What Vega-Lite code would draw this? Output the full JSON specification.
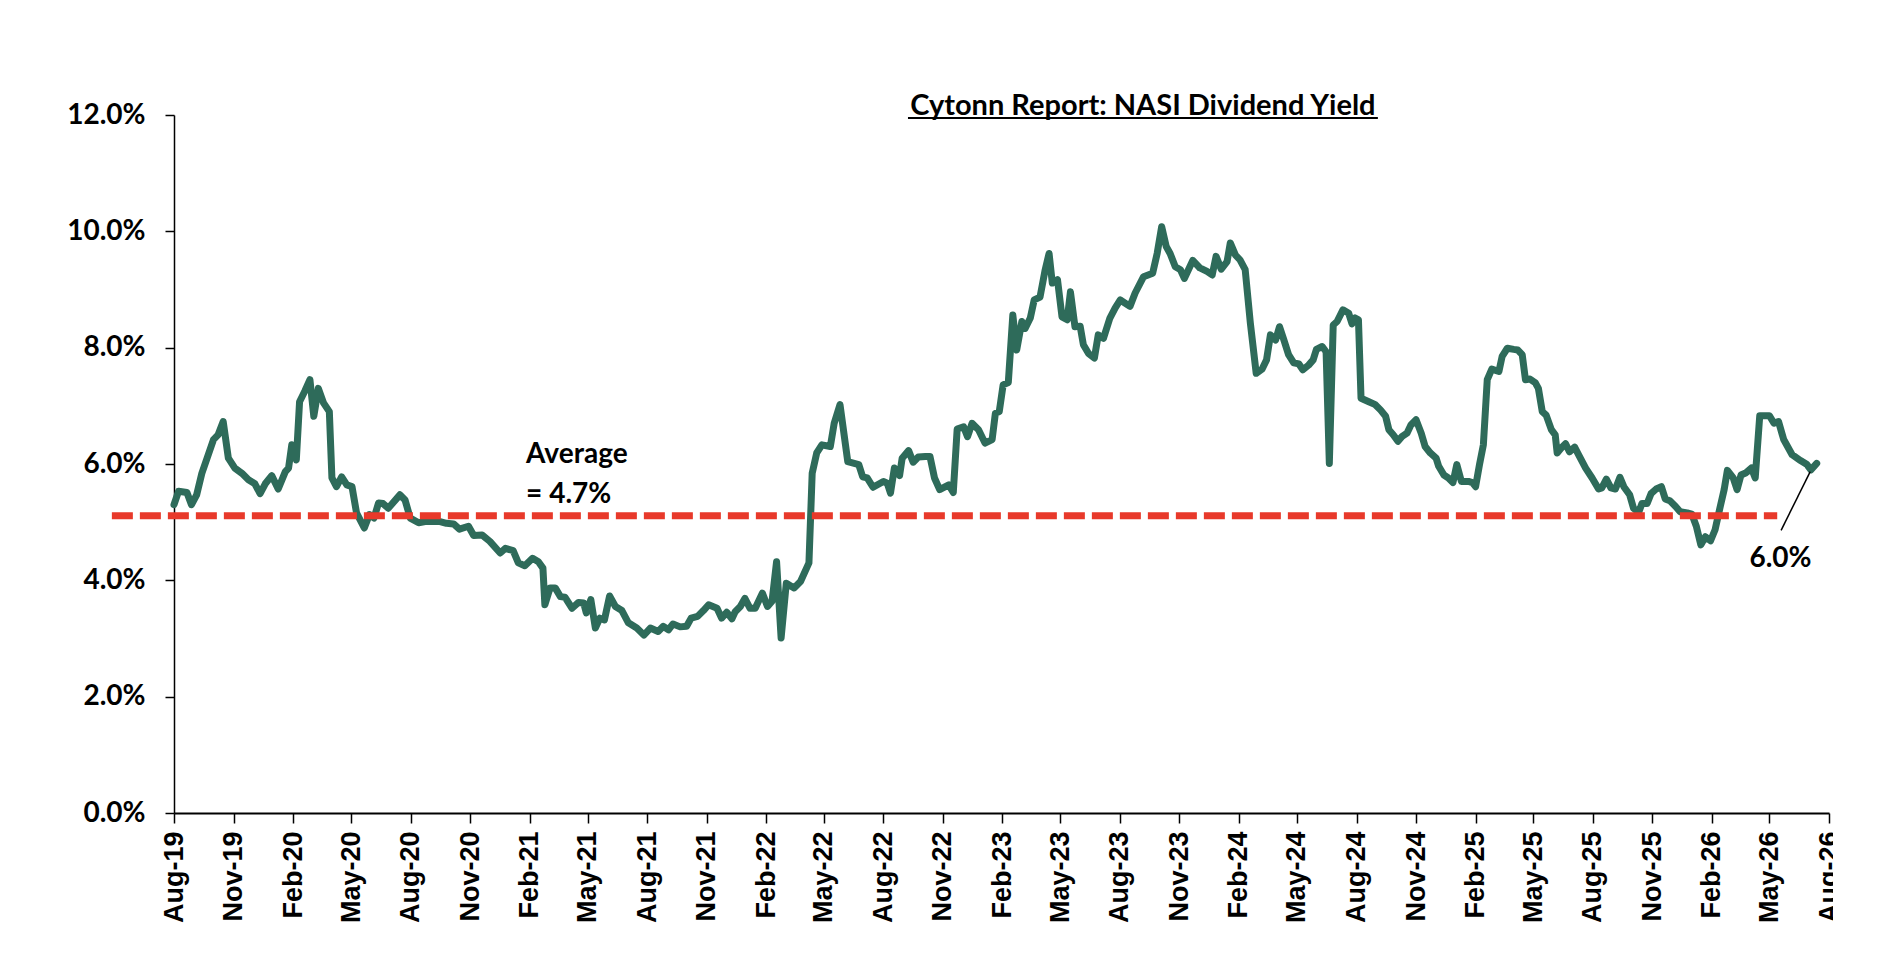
{
  "$schema": "https://vega.github.io/schema/vega-lite/v6.json",
  "width": 1655,
  "height": 698,
  "autosize": {"type": "none"},
  "padding": {"left": 174, "top": 115, "right": 4, "bottom": 159},
  "background": "white",
  "datasets": {
    "nasi": [
      {"date": "2019-08-01", "value": 5.30},
      {"date": "2019-08-08", "value": 5.53},
      {"date": "2019-08-21", "value": 5.51},
      {"date": "2019-08-28", "value": 5.30},
      {"date": "2019-09-05", "value": 5.47},
      {"date": "2019-09-13", "value": 5.84},
      {"date": "2019-10-01", "value": 6.42},
      {"date": "2019-10-08", "value": 6.50},
      {"date": "2019-10-16", "value": 6.73},
      {"date": "2019-10-24", "value": 6.10},
      {"date": "2019-11-03", "value": 5.93},
      {"date": "2019-11-14", "value": 5.84},
      {"date": "2019-11-24", "value": 5.73},
      {"date": "2019-12-04", "value": 5.66},
      {"date": "2019-12-12", "value": 5.49},
      {"date": "2019-12-20", "value": 5.66},
      {"date": "2019-12-30", "value": 5.80},
      {"date": "2020-01-09", "value": 5.57},
      {"date": "2020-01-20", "value": 5.87},
      {"date": "2020-01-25", "value": 5.93},
      {"date": "2020-01-30", "value": 6.33},
      {"date": "2020-02-06", "value": 6.07},
      {"date": "2020-02-11", "value": 7.07},
      {"date": "2020-02-19", "value": 7.25},
      {"date": "2020-02-27", "value": 7.45},
      {"date": "2020-03-04", "value": 6.82},
      {"date": "2020-03-11", "value": 7.30},
      {"date": "2020-03-19", "value": 7.05},
      {"date": "2020-03-28", "value": 6.90},
      {"date": "2020-04-01", "value": 5.76},
      {"date": "2020-04-08", "value": 5.61},
      {"date": "2020-04-16", "value": 5.78},
      {"date": "2020-04-24", "value": 5.64},
      {"date": "2020-05-02", "value": 5.61},
      {"date": "2020-05-09", "value": 5.16},
      {"date": "2020-05-21", "value": 4.90},
      {"date": "2020-05-29", "value": 5.13},
      {"date": "2020-06-05", "value": 5.07},
      {"date": "2020-06-12", "value": 5.33},
      {"date": "2020-06-19", "value": 5.32},
      {"date": "2020-06-27", "value": 5.24},
      {"date": "2020-07-15", "value": 5.47},
      {"date": "2020-07-23", "value": 5.38},
      {"date": "2020-07-31", "value": 5.07},
      {"date": "2020-08-13", "value": 4.99},
      {"date": "2020-08-23", "value": 5.01},
      {"date": "2020-09-15", "value": 5.01},
      {"date": "2020-09-25", "value": 4.98},
      {"date": "2020-10-06", "value": 4.97},
      {"date": "2020-10-15", "value": 4.88},
      {"date": "2020-10-29", "value": 4.93},
      {"date": "2020-11-06", "value": 4.77},
      {"date": "2020-11-19", "value": 4.78},
      {"date": "2020-12-01", "value": 4.67},
      {"date": "2020-12-17", "value": 4.47},
      {"date": "2020-12-25", "value": 4.55},
      {"date": "2021-01-06", "value": 4.51},
      {"date": "2021-01-14", "value": 4.30},
      {"date": "2021-01-24", "value": 4.25},
      {"date": "2021-02-05", "value": 4.38},
      {"date": "2021-02-14", "value": 4.32},
      {"date": "2021-02-21", "value": 4.21},
      {"date": "2021-02-24", "value": 3.58},
      {"date": "2021-03-04", "value": 3.87},
      {"date": "2021-03-12", "value": 3.87},
      {"date": "2021-03-20", "value": 3.72},
      {"date": "2021-03-27", "value": 3.71},
      {"date": "2021-04-07", "value": 3.52},
      {"date": "2021-04-17", "value": 3.62},
      {"date": "2021-04-25", "value": 3.61},
      {"date": "2021-04-29", "value": 3.44},
      {"date": "2021-05-06", "value": 3.67},
      {"date": "2021-05-13", "value": 3.18},
      {"date": "2021-05-20", "value": 3.35},
      {"date": "2021-05-27", "value": 3.32},
      {"date": "2021-06-04", "value": 3.73},
      {"date": "2021-06-13", "value": 3.55},
      {"date": "2021-06-23", "value": 3.48},
      {"date": "2021-07-03", "value": 3.27},
      {"date": "2021-07-16", "value": 3.18},
      {"date": "2021-07-27", "value": 3.06},
      {"date": "2021-08-06", "value": 3.18},
      {"date": "2021-08-18", "value": 3.12},
      {"date": "2021-08-26", "value": 3.21},
      {"date": "2021-09-03", "value": 3.15},
      {"date": "2021-09-10", "value": 3.25},
      {"date": "2021-09-21", "value": 3.20},
      {"date": "2021-10-01", "value": 3.21},
      {"date": "2021-10-08", "value": 3.35},
      {"date": "2021-10-18", "value": 3.38},
      {"date": "2021-10-27", "value": 3.48},
      {"date": "2021-11-04", "value": 3.58},
      {"date": "2021-11-17", "value": 3.52},
      {"date": "2021-11-24", "value": 3.35},
      {"date": "2021-12-02", "value": 3.45},
      {"date": "2021-12-10", "value": 3.34},
      {"date": "2021-12-15", "value": 3.46},
      {"date": "2021-12-23", "value": 3.55},
      {"date": "2021-12-30", "value": 3.69},
      {"date": "2022-01-07", "value": 3.52},
      {"date": "2022-01-15", "value": 3.52},
      {"date": "2022-01-26", "value": 3.78},
      {"date": "2022-02-03", "value": 3.55},
      {"date": "2022-02-10", "value": 3.64},
      {"date": "2022-02-17", "value": 4.32},
      {"date": "2022-02-24", "value": 3.01},
      {"date": "2022-03-04", "value": 3.95},
      {"date": "2022-03-16", "value": 3.87},
      {"date": "2022-03-26", "value": 3.98},
      {"date": "2022-04-08", "value": 4.30},
      {"date": "2022-04-13", "value": 5.84},
      {"date": "2022-04-20", "value": 6.19},
      {"date": "2022-04-28", "value": 6.33},
      {"date": "2022-05-11", "value": 6.30},
      {"date": "2022-05-17", "value": 6.70},
      {"date": "2022-05-26", "value": 7.02},
      {"date": "2022-06-07", "value": 6.04},
      {"date": "2022-06-24", "value": 5.99},
      {"date": "2022-06-30", "value": 5.78},
      {"date": "2022-07-07", "value": 5.76},
      {"date": "2022-07-16", "value": 5.60},
      {"date": "2022-08-01", "value": 5.70},
      {"date": "2022-08-07", "value": 5.67},
      {"date": "2022-08-12", "value": 5.50},
      {"date": "2022-08-18", "value": 5.93},
      {"date": "2022-08-26", "value": 5.80},
      {"date": "2022-08-30", "value": 6.10},
      {"date": "2022-09-09", "value": 6.23},
      {"date": "2022-09-16", "value": 6.03},
      {"date": "2022-09-24", "value": 6.12},
      {"date": "2022-10-05", "value": 6.13},
      {"date": "2022-10-12", "value": 6.13},
      {"date": "2022-10-19", "value": 5.76},
      {"date": "2022-10-27", "value": 5.56},
      {"date": "2022-11-10", "value": 5.64},
      {"date": "2022-11-17", "value": 5.51},
      {"date": "2022-11-23", "value": 6.60},
      {"date": "2022-12-03", "value": 6.64},
      {"date": "2022-12-09", "value": 6.47},
      {"date": "2022-12-16", "value": 6.70},
      {"date": "2022-12-26", "value": 6.59},
      {"date": "2023-01-05", "value": 6.36},
      {"date": "2023-01-16", "value": 6.42},
      {"date": "2023-01-21", "value": 6.87},
      {"date": "2023-01-27", "value": 6.90},
      {"date": "2023-02-02", "value": 7.36},
      {"date": "2023-02-10", "value": 7.40},
      {"date": "2023-02-17", "value": 8.56},
      {"date": "2023-02-23", "value": 7.96},
      {"date": "2023-03-03", "value": 8.45},
      {"date": "2023-03-08", "value": 8.33},
      {"date": "2023-03-16", "value": 8.51},
      {"date": "2023-03-22", "value": 8.82},
      {"date": "2023-03-31", "value": 8.87},
      {"date": "2023-04-08", "value": 9.34},
      {"date": "2023-04-14", "value": 9.62},
      {"date": "2023-04-19", "value": 9.11},
      {"date": "2023-04-27", "value": 9.17},
      {"date": "2023-05-04", "value": 8.53},
      {"date": "2023-05-12", "value": 8.48},
      {"date": "2023-05-17", "value": 8.96},
      {"date": "2023-05-24", "value": 8.36},
      {"date": "2023-06-01", "value": 8.37},
      {"date": "2023-06-06", "value": 8.05},
      {"date": "2023-06-14", "value": 7.90},
      {"date": "2023-06-23", "value": 7.82},
      {"date": "2023-06-29", "value": 8.22},
      {"date": "2023-07-07", "value": 8.16},
      {"date": "2023-07-17", "value": 8.51},
      {"date": "2023-07-25", "value": 8.68},
      {"date": "2023-08-02", "value": 8.82},
      {"date": "2023-08-17", "value": 8.71},
      {"date": "2023-08-25", "value": 8.94},
      {"date": "2023-09-07", "value": 9.22},
      {"date": "2023-09-21", "value": 9.28},
      {"date": "2023-09-28", "value": 9.62},
      {"date": "2023-10-05", "value": 10.08},
      {"date": "2023-10-12", "value": 9.74},
      {"date": "2023-10-18", "value": 9.62},
      {"date": "2023-10-26", "value": 9.39},
      {"date": "2023-11-03", "value": 9.34},
      {"date": "2023-11-09", "value": 9.19},
      {"date": "2023-11-22", "value": 9.50},
      {"date": "2023-12-03", "value": 9.37},
      {"date": "2023-12-14", "value": 9.31},
      {"date": "2023-12-22", "value": 9.25},
      {"date": "2023-12-28", "value": 9.57},
      {"date": "2024-01-05", "value": 9.35},
      {"date": "2024-01-14", "value": 9.48},
      {"date": "2024-01-19", "value": 9.80},
      {"date": "2024-01-27", "value": 9.59},
      {"date": "2024-02-03", "value": 9.51},
      {"date": "2024-02-11", "value": 9.34},
      {"date": "2024-02-19", "value": 8.42},
      {"date": "2024-02-28", "value": 7.56},
      {"date": "2024-03-08", "value": 7.63},
      {"date": "2024-03-15", "value": 7.79},
      {"date": "2024-03-21", "value": 8.22},
      {"date": "2024-03-29", "value": 8.13},
      {"date": "2024-04-04", "value": 8.36},
      {"date": "2024-04-10", "value": 8.16},
      {"date": "2024-04-18", "value": 7.88},
      {"date": "2024-04-26", "value": 7.74},
      {"date": "2024-05-04", "value": 7.72},
      {"date": "2024-05-10", "value": 7.62},
      {"date": "2024-05-19", "value": 7.70},
      {"date": "2024-05-26", "value": 7.79},
      {"date": "2024-05-31", "value": 7.97},
      {"date": "2024-06-09", "value": 8.02},
      {"date": "2024-06-15", "value": 7.93},
      {"date": "2024-06-20", "value": 6.01},
      {"date": "2024-06-26", "value": 8.39},
      {"date": "2024-07-02", "value": 8.45},
      {"date": "2024-07-11", "value": 8.65},
      {"date": "2024-07-20", "value": 8.59},
      {"date": "2024-07-25", "value": 8.41},
      {"date": "2024-07-30", "value": 8.51},
      {"date": "2024-08-04", "value": 8.48},
      {"date": "2024-08-08", "value": 7.13},
      {"date": "2024-08-20", "value": 7.07},
      {"date": "2024-08-30", "value": 7.02},
      {"date": "2024-09-07", "value": 6.93},
      {"date": "2024-09-15", "value": 6.82},
      {"date": "2024-09-20", "value": 6.59},
      {"date": "2024-09-27", "value": 6.50},
      {"date": "2024-10-04", "value": 6.39},
      {"date": "2024-10-10", "value": 6.47},
      {"date": "2024-10-18", "value": 6.53},
      {"date": "2024-10-24", "value": 6.67},
      {"date": "2024-11-01", "value": 6.76},
      {"date": "2024-11-09", "value": 6.53},
      {"date": "2024-11-15", "value": 6.30},
      {"date": "2024-11-23", "value": 6.19},
      {"date": "2024-12-02", "value": 6.10},
      {"date": "2024-12-06", "value": 5.96},
      {"date": "2024-12-14", "value": 5.81},
      {"date": "2024-12-21", "value": 5.76},
      {"date": "2024-12-28", "value": 5.68},
      {"date": "2025-01-03", "value": 5.99},
      {"date": "2025-01-10", "value": 5.70},
      {"date": "2025-01-21", "value": 5.70},
      {"date": "2025-01-27", "value": 5.68},
      {"date": "2025-02-01", "value": 5.61},
      {"date": "2025-02-07", "value": 5.99},
      {"date": "2025-02-13", "value": 6.33},
      {"date": "2025-02-19", "value": 7.45},
      {"date": "2025-02-26", "value": 7.63},
      {"date": "2025-03-09", "value": 7.59},
      {"date": "2025-03-14", "value": 7.85},
      {"date": "2025-03-22", "value": 7.99},
      {"date": "2025-04-01", "value": 7.97},
      {"date": "2025-04-07", "value": 7.96},
      {"date": "2025-04-14", "value": 7.88},
      {"date": "2025-04-19", "value": 7.45},
      {"date": "2025-04-26", "value": 7.46},
      {"date": "2025-05-04", "value": 7.40},
      {"date": "2025-05-09", "value": 7.30},
      {"date": "2025-05-15", "value": 6.90},
      {"date": "2025-05-21", "value": 6.84},
      {"date": "2025-05-29", "value": 6.59},
      {"date": "2025-06-04", "value": 6.50},
      {"date": "2025-06-07", "value": 6.19},
      {"date": "2025-06-13", "value": 6.27},
      {"date": "2025-06-20", "value": 6.35},
      {"date": "2025-06-26", "value": 6.21},
      {"date": "2025-07-04", "value": 6.29},
      {"date": "2025-07-10", "value": 6.16},
      {"date": "2025-07-21", "value": 5.93},
      {"date": "2025-07-31", "value": 5.76},
      {"date": "2025-08-10", "value": 5.57},
      {"date": "2025-08-15", "value": 5.59},
      {"date": "2025-08-22", "value": 5.74},
      {"date": "2025-08-29", "value": 5.59},
      {"date": "2025-09-05", "value": 5.57},
      {"date": "2025-09-12", "value": 5.77},
      {"date": "2025-09-18", "value": 5.61},
      {"date": "2025-09-27", "value": 5.47},
      {"date": "2025-10-03", "value": 5.24},
      {"date": "2025-10-11", "value": 5.17},
      {"date": "2025-10-16", "value": 5.32},
      {"date": "2025-10-24", "value": 5.32},
      {"date": "2025-10-30", "value": 5.49},
      {"date": "2025-11-07", "value": 5.57},
      {"date": "2025-11-15", "value": 5.61},
      {"date": "2025-11-21", "value": 5.40},
      {"date": "2025-11-28", "value": 5.37},
      {"date": "2025-12-07", "value": 5.27},
      {"date": "2025-12-14", "value": 5.18},
      {"date": "2025-12-25", "value": 5.16},
      {"date": "2026-01-01", "value": 5.14},
      {"date": "2026-01-08", "value": 4.93},
      {"date": "2026-01-15", "value": 4.61},
      {"date": "2026-01-22", "value": 4.75},
      {"date": "2026-01-30", "value": 4.68},
      {"date": "2026-02-06", "value": 4.87},
      {"date": "2026-02-14", "value": 5.27},
      {"date": "2026-02-20", "value": 5.56},
      {"date": "2026-02-25", "value": 5.89},
      {"date": "2026-03-06", "value": 5.76},
      {"date": "2026-03-12", "value": 5.56},
      {"date": "2026-03-18", "value": 5.81},
      {"date": "2026-03-26", "value": 5.85},
      {"date": "2026-04-03", "value": 5.93},
      {"date": "2026-04-09", "value": 5.76},
      {"date": "2026-04-16", "value": 6.83},
      {"date": "2026-04-23", "value": 6.83},
      {"date": "2026-05-01", "value": 6.83},
      {"date": "2026-05-08", "value": 6.70},
      {"date": "2026-05-15", "value": 6.73},
      {"date": "2026-05-23", "value": 6.42},
      {"date": "2026-06-05", "value": 6.16},
      {"date": "2026-06-18", "value": 6.06},
      {"date": "2026-06-28", "value": 5.99},
      {"date": "2026-07-04", "value": 5.90},
      {"date": "2026-07-13", "value": 6.01}
    ],
    "average": [
      {"date": "2019-04-27", "date2": "2026-05-13", "value": 5.11}
    ],
    "averageLabel": [
      {"date": "2021-01-26", "value": 6.02, "label": "Average"},
      {"date": "2021-01-26", "value": 5.33, "label": "= 4.7%"}
    ],
    "lastLabel": [
      {"date": "2026-05-18", "value": 4.23, "label": "6.0%"}
    ],
    "leader": [
      {"date": "2026-05-19", "value": 4.86, "date2": "2026-07-03", "value2": 5.87}
    ],
    "heading": [
      {"date": "2023-09-06", "value": 12.0, "label": "Cytonn Report: NASI Dividend Yield"}
    ],
    "headingLine": [
      {"date": "2022-09-08", "date2": "2024-09-03", "value": 11.95}
    ]
  },
  "layer": [
    {
      "data": {"name": "nasi"},
      "mark": {"type": "line", "color": "#2E6B5A", "strokeWidth": 7, "strokeJoin": "round", "strokeCap": "round", "clip": false},
      "encoding": {
        "x": {
          "field": "date",
          "type": "temporal",
          "title": null,
          "scale": {
            "type": "utc",
            "domain": [
              {"year": 2019, "month": 8, "date": 1, "utc": true},
              {"year": 2026, "month": 8, "date": 1, "utc": true}
            ]
          },
          "axis": {
            "values": [
              {"year": 2019, "month": 8, "date": 1, "utc": true},
              {"year": 2019, "month": 11, "date": 1, "utc": true},
              {"year": 2020, "month": 2, "date": 1, "utc": true},
              {"year": 2020, "month": 5, "date": 1, "utc": true},
              {"year": 2020, "month": 8, "date": 1, "utc": true},
              {"year": 2020, "month": 11, "date": 1, "utc": true},
              {"year": 2021, "month": 2, "date": 1, "utc": true},
              {"year": 2021, "month": 5, "date": 1, "utc": true},
              {"year": 2021, "month": 8, "date": 1, "utc": true},
              {"year": 2021, "month": 11, "date": 1, "utc": true},
              {"year": 2022, "month": 2, "date": 1, "utc": true},
              {"year": 2022, "month": 5, "date": 1, "utc": true},
              {"year": 2022, "month": 8, "date": 1, "utc": true},
              {"year": 2022, "month": 11, "date": 1, "utc": true},
              {"year": 2023, "month": 2, "date": 1, "utc": true},
              {"year": 2023, "month": 5, "date": 1, "utc": true},
              {"year": 2023, "month": 8, "date": 1, "utc": true},
              {"year": 2023, "month": 11, "date": 1, "utc": true},
              {"year": 2024, "month": 2, "date": 1, "utc": true},
              {"year": 2024, "month": 5, "date": 1, "utc": true},
              {"year": 2024, "month": 8, "date": 1, "utc": true},
              {"year": 2024, "month": 11, "date": 1, "utc": true},
              {"year": 2025, "month": 2, "date": 1, "utc": true},
              {"year": 2025, "month": 5, "date": 1, "utc": true},
              {"year": 2025, "month": 8, "date": 1, "utc": true},
              {"year": 2025, "month": 11, "date": 1, "utc": true},
              {"year": 2026, "month": 2, "date": 1, "utc": true},
              {"year": 2026, "month": 5, "date": 1, "utc": true},
              {"year": 2026, "month": 8, "date": 1, "utc": true}
            ],
            "format": "%b-%y",
            "labelAngle": -90,
            "labelFont": "Liberation Sans",
            "labelFontWeight": "bold",
            "labelFontSize": 27,
            "labelColor": "black",
            "labelPadding": 8,
            "labelFlush": false,
            "labelOverlap": false,
            "labelBound": false,
            "tickSize": 10,
            "tickWidth": 1.5,
            "tickColor": "black",
            "domainWidth": 2,
            "domainColor": "black",
            "grid": false
          }
        },
        "y": {
          "field": "value",
          "type": "quantitative",
          "title": null,
          "scale": {"domain": [0, 12], "nice": false, "zero": true},
          "axis": {
            "values": [0, 2, 4, 6, 8, 10, 12],
            "labelExpr": "format(datum.value, '.1f') + '%'",
            "labelFont": "Lato",
            "labelFontWeight": "bold",
            "labelFontSize": 28,
            "labelColor": "black",
            "labelPadding": 20,
            "tickSize": 9,
            "tickWidth": 1.5,
            "tickColor": "black",
            "domainWidth": 1.5,
            "domainColor": "black",
            "grid": false
          }
        }
      }
    },
    {
      "data": {"name": "average"},
      "mark": {"type": "rule", "color": "#E8392A", "strokeWidth": 7, "strokeDash": [21, 7], "strokeCap": "butt", "clip": false},
      "encoding": {
        "x": {"field": "date", "type": "temporal", "title": null},
        "x2": {"field": "date2"},
        "y": {"field": "value", "type": "quantitative", "title": null}
      }
    },
    {
      "data": {"name": "leader"},
      "mark": {"type": "rule", "color": "black", "strokeWidth": 1.5, "clip": false},
      "encoding": {
        "x": {"field": "date", "type": "temporal", "title": null},
        "x2": {"field": "date2"},
        "y": {"field": "value", "type": "quantitative", "title": null},
        "y2": {"field": "value2"}
      }
    },
    {
      "data": {"name": "averageLabel"},
      "mark": {"type": "text", "align": "left", "baseline": "alphabetic", "font": "Lato", "fontWeight": "bold", "fontSize": 28, "color": "black", "clip": false},
      "encoding": {
        "x": {"field": "date", "type": "temporal", "title": null},
        "y": {"field": "value", "type": "quantitative", "title": null},
        "text": {"field": "label"}
      }
    },
    {
      "data": {"name": "lastLabel"},
      "mark": {"type": "text", "align": "center", "baseline": "alphabetic", "font": "Lato", "fontWeight": "bold", "fontSize": 28, "color": "black", "clip": false},
      "encoding": {
        "x": {"field": "date", "type": "temporal", "title": null},
        "y": {"field": "value", "type": "quantitative", "title": null},
        "text": {"field": "label"}
      }
    },
    {
      "data": {"name": "heading"},
      "mark": {"type": "text", "align": "center", "baseline": "alphabetic", "font": "Lato", "fontWeight": "bold", "fontSize": 29, "color": "black", "clip": false},
      "encoding": {
        "x": {"field": "date", "type": "temporal", "title": null},
        "y": {"field": "value", "type": "quantitative", "title": null},
        "text": {"field": "label"}
      }
    },
    {
      "data": {"name": "headingLine"},
      "mark": {"type": "rule", "color": "black", "strokeWidth": 2, "clip": false},
      "encoding": {
        "x": {"field": "date", "type": "temporal", "title": null},
        "x2": {"field": "date2"},
        "y": {"field": "value", "type": "quantitative", "title": null}
      }
    }
  ],
  "config": {
    "view": {"stroke": null},
    "axis": {"grid": false}
  }
}
